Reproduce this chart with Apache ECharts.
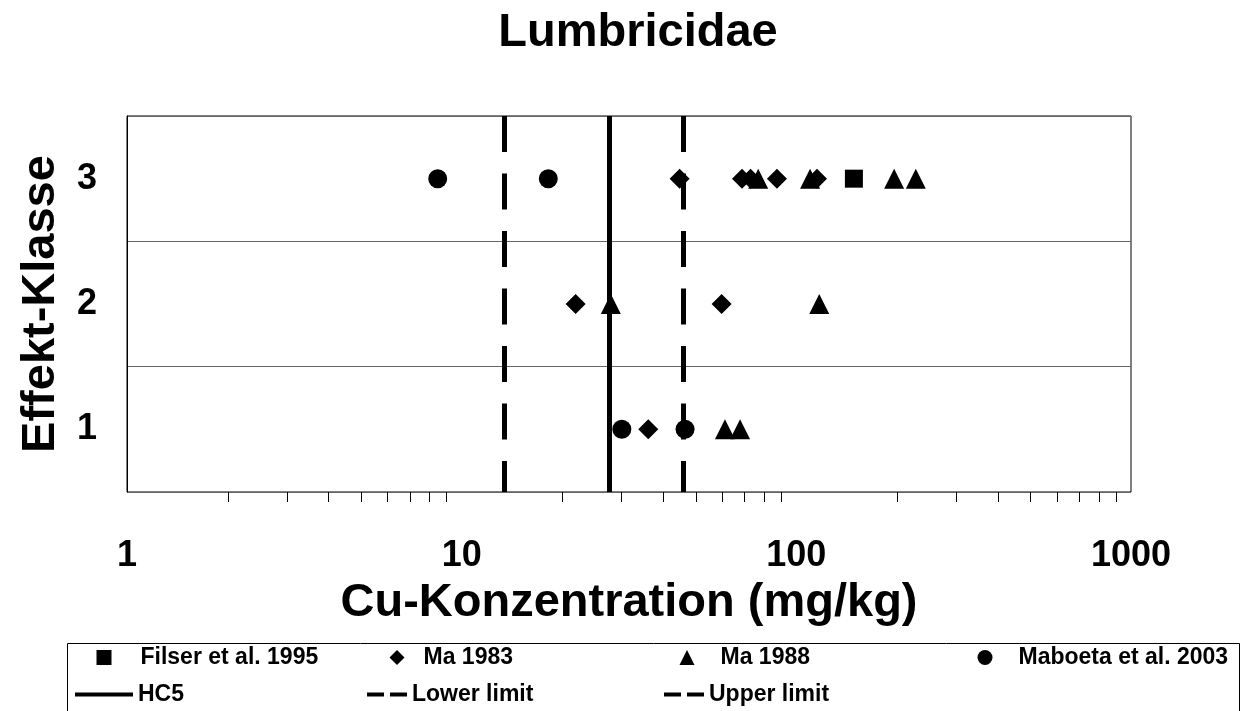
<!DOCTYPE html>
<html>
<head>
<meta charset="utf-8">
<title>Lumbricidae</title>
<script src="https://cdn.jsdelivr.net/npm/echarts@6/dist/echarts.min.js"></script>
<style>
  html, body { margin: 0; padding: 0; background: #fff; }
  #chart { width: 1245px; height: 711px; }
</style>
</head>
<body>
<div id="chart"></div>
<script>
// Effekt-Klassen (y) und Werte (x, mg/kg Cu)
const classes = ['1', '2', '3'];

const filserX = [148.6];
const filserY = ['3'];

const ma1983X = [44.8, 68.8, 73.0, 87.5, 115.3, 21.9, 59.8, 36.1];
const ma1983Y = ['3', '3', '3', '3', '3', '2', '2', '1'];

const ma1988X = [76.9, 109.9, 196.0, 227.5, 27.9, 117.1, 61.2, 67.9];
const ma1988Y = ['3', '3', '3', '3', '2', '2', '1', '1'];

const maboetaX = [8.48, 18.15, 30.1, 46.5];
const maboetaY = ['3', '3', '1', '1'];

const hc5 = 27.6;
const lowerLimit = 13.4;
const upperLimit = 45.8;

// kleine Teilstriche der log-Achse
const minorTicks = [2, 3, 4, 5, 6, 7, 8, 9, 20, 30, 40, 50, 60, 70, 80, 90, 200, 300, 400, 500, 600, 700, 800, 900];

const FONT = '"Liberation Sans", Arial, sans-serif';
const pairs = (xs, ys) => xs.map((x, i) => [x, ys[i]]);

const chart = echarts.init(document.getElementById('chart'));

function vLine(name, value, dashed) {
  return {
    name: name,
    type: 'line',
    data: [],
    color: '#000',
    markLine: {
      silent: true,
      symbol: ['none', 'none'],
      label: { show: false },
      lineStyle: {
        color: '#000',
        width: 5,
        type: dashed ? [36, 21.5] : 'solid',
        dashOffset: dashed ? 5 : 0
      },
      data: [{ xAxis: value }]
    }
  };
}

function scatter(name, symbol, size, xs, ys) {
  return {
    name: name,
    type: 'scatter',
    symbol: symbol,
    symbolSize: size,
    color: '#000',
    itemStyle: { color: '#000', opacity: 1 },
    data: pairs(xs, ys)
  };
}

// ein Legendeneintrag: Symbol links, Text mit Abstand (pad)
function legendItem(name, left, top, w, h, icon, pad) {
  return {
    data: [name],
    left: left,
    top: top,
    padding: 0,
    itemWidth: w,
    itemHeight: h,
    icon: icon,
    symbolKeepAspect: false,
    selectedMode: false,
    itemStyle: { borderWidth: 0, opacity: 1 },
    textStyle: {
      color: '#000', fontSize: 23, fontWeight: 'bold', fontFamily: FONT,
      padding: [0, 0, 0, pad]
    }
  };
}

const dashIcon = 'path://M0,0h17v4h-17z M23,0h17v4h-17z';

chart.setOption({
  animation: false,
  backgroundColor: '#fff',
  title: {
    text: 'Lumbricidae',
    left: 638,
    top: 10,
    padding: 0,
    textAlign: 'center',
    textStyle: { color: '#000', fontSize: 47, fontWeight: 'bold', fontFamily: FONT }
  },
  grid: {
    left: 127,
    right: 114,
    top: 116,
    bottom: 219,
    show: true,
    borderColor: '#000',
    borderWidth: 1
  },
  xAxis: {
    type: 'log',
    logBase: 10,
    min: 1,
    max: 1000,
    axisLine: { lineStyle: { color: '#000', width: 1 } },
    axisTick: { length: 11, lineStyle: { color: '#000', width: 1 } },
    splitLine: { show: false },
    axisLabel: {
      color: '#000', fontSize: 36, fontWeight: 'bold', fontFamily: FONT, margin: 46,
      formatter: v => String(v)
    },
    name: 'Cu-Konzentration (mg/kg)',
    nameLocation: 'middle',
    nameGap: 88,
    nameTextStyle: { color: '#000', fontSize: 47, fontWeight: 'bold', fontFamily: FONT }
  },
  yAxis: {
    type: 'category',
    data: classes,
    axisLine: { lineStyle: { color: '#000', width: 1 } },
    axisTick: { length: 12, lineStyle: { color: '#000', width: 1 } },
    splitLine: { show: true, lineStyle: { color: '#666', width: 1 } },
    axisLabel: { color: '#000', fontSize: 36, fontWeight: 'bold', fontFamily: FONT, margin: 30 },
    name: 'Effekt-Klasse',
    nameLocation: 'middle',
    nameGap: 62,
    nameTextStyle: { color: '#000', fontSize: 47, fontWeight: 'bold', fontFamily: FONT }
  },
  legend: [
    legendItem('Filser et al. 1995', 96.5, 646, 15, 15, 'rect', 24),
    legendItem('Ma 1983', 389.5, 646, 15, 15, 'diamond', 14),
    legendItem('Ma 1988', 679.5, 646, 15, 15, 'triangle', 21),
    legendItem('Maboeta et al. 2003', 977.5, 646, 15, 15, 'circle', 21),
    legendItem('HC5', 75, 683, 58, 4, 'rect', 0),
    legendItem('Lower limit', 367, 683, 40, 4, dashIcon, 0),
    legendItem('Upper limit', 664, 683, 40, 4, dashIcon, 0)
  ],
  graphic: [{
    type: 'rect',
    shape: { x: 67.5, y: 643.5, width: 1172, height: 80 },
    style: { fill: 'none', stroke: '#000', lineWidth: 1 },
    silent: true
  }],
  series: [
    vLine('HC5', hc5, false),
    vLine('Lower limit', lowerLimit, true),
    vLine('Upper limit', upperLimit, true),
    {
      name: 'minor ticks',
      type: 'custom',
      silent: true,
      clip: false,
      data: minorTicks.map(v => [v, 0]),
      renderItem: function (params, api) {
        const cs = params.coordSys;
        const px = Math.round(api.coord([api.value(0), 0])[0]) + 0.5;
        const bottom = cs.y + cs.height;
        return {
          type: 'line',
          shape: { x1: px, y1: bottom, x2: px, y2: bottom + 10 },
          style: { stroke: '#000', lineWidth: 1 }
        };
      }
    },
    scatter('Filser et al. 1995', 'rect', 18, filserX, filserY),
    scatter('Ma 1983', 'diamond', 20, ma1983X, ma1983Y),
    scatter('Ma 1988', 'triangle', 20, ma1988X, ma1988Y),
    scatter('Maboeta et al. 2003', 'circle', 19, maboetaX, maboetaY)
  ]
});
</script>
</body>
</html>
